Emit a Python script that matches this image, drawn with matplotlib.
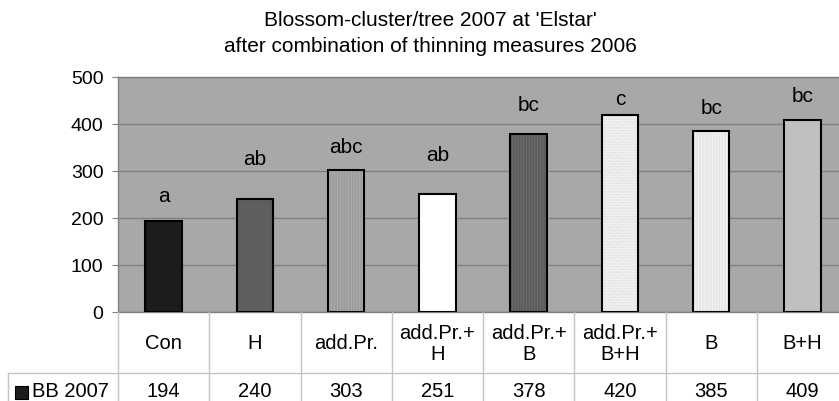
import matplotlib
matplotlib.use("Agg")
import matplotlib.pyplot as plt
from matplotlib import transforms
from matplotlib.lines import Line2D
from matplotlib.patches import Rectangle

plt.rcParams['font.family'] = ['Liberation Sans', 'DejaVu Sans']
plt.rcParams['hatch.linewidth'] = 0.6

categories = ['Con', 'H', 'add.Pr.', 'add.Pr.+\nH', 'add.Pr.+\nB', 'add.Pr.+\nB+H', 'B', 'B+H']
values = [194, 240, 303, 251, 378, 420, 385, 409]
letters = ['a', 'ab', 'abc', 'ab', 'bc', 'c', 'bc', 'bc']
letter_y = [248, 326, 353, 335, 441, 454, 436, 460]
series_name = 'BB 2007'
yticks = [0, 100, 200, 300, 400, 500]

face = ['#1c1c1c', '#5e5e5e', '#9c9c9c', '#ffffff', '#5c5c5c', '#f0f0f0', '#e6e6e6', '#c0c0c0']
hatch = [None, None, '||||||', None, '||||||', '......', '||||||', None]
hatchcol = [None, None, '#b0b0b0', None, '#6e6e6e', '#dadada', '#f6f6f6', None]

W, H = 839, 402
fig = plt.figure(figsize=(W / 100, H / 100), dpi=100)
left_px, right_px, top_px, bot_px = 118, 848, 78, 313
ax = fig.add_axes([left_px / W, 1 - bot_px / H, (right_px - left_px) / W, (bot_px - top_px) / H])
ax.set_facecolor('#a8a8a8')
ax.set_xlim(-0.5, len(categories) - 0.5)
ax.set_ylim(0, 500)
ax.set_yticks(yticks)
ax.tick_params(axis='y', labelsize=14, length=4.5, color='#808080', pad=6)
ax.set_xticks([])
for s in ax.spines.values():
    s.set_color('#808080')
    s.set_linewidth(1)
ax.yaxis.grid(True, color='#808080', linewidth=1)
ax.set_axisbelow(True)

x = list(range(len(categories)))
bw = 0.4
for i in x:
    ax.bar(i, values[i], width=bw, color=face[i], edgecolor=hatchcol[i] if hatch[i] else face[i],
           hatch=hatch[i], linewidth=0, zorder=2)
    ax.bar(i, values[i], width=bw, facecolor='none', edgecolor='#000000', linewidth=1.5, zorder=3)
    ax.text(i, letter_y[i], letters[i], ha='center', va='center', fontsize=15, color='#000000', zorder=4)

# data table below
tr = transforms.blended_transform_factory(ax.transData, fig.transFigure)
grid_col = '#c4c4c4'
def fy(px):
    return 1 - px / H
row_split = 374
for b in [i - 0.5 for i in x] + [len(x) - 0.5]:
    fig.add_artist(Line2D([b, b], [fy(bot_px), fy(H + 5)], transform=tr, color=grid_col, linewidth=1))
fig.add_artist(Line2D([8 / W, 1.05], [fy(row_split), fy(row_split)], transform=fig.transFigure,
                      color=grid_col, linewidth=1))
fig.add_artist(Line2D([8 / W, 8 / W], [fy(row_split), fy(H + 5)], transform=fig.transFigure,
                      color=grid_col, linewidth=1))
for i in x:
    fig.text(i, fy(344), categories[i], transform=tr, ha='center', va='center', fontsize=14.5,
             linespacing=1.08)
    fig.text(i, fy(392), str(values[i]), transform=tr, ha='center', va='center', fontsize=14.5)
fig.add_artist(Rectangle((15 / W, fy(400)), 13 / W, 13 / H, transform=fig.transFigure,
                         facecolor=face[0], edgecolor='#000000', linewidth=0.8))
fig.text(32 / W, fy(392), series_name, ha='left', va='center', fontsize=14.5)

fig.text(430 / W, fy(20), "Blossom-cluster/tree 2007 at 'Elstar'", ha='center', va='center', fontsize=15)
fig.text(430 / W, fy(46), "after combination of thinning measures 2006", ha='center', va='center', fontsize=15)

fig.savefig('out.png', dpi=100, facecolor='white')
